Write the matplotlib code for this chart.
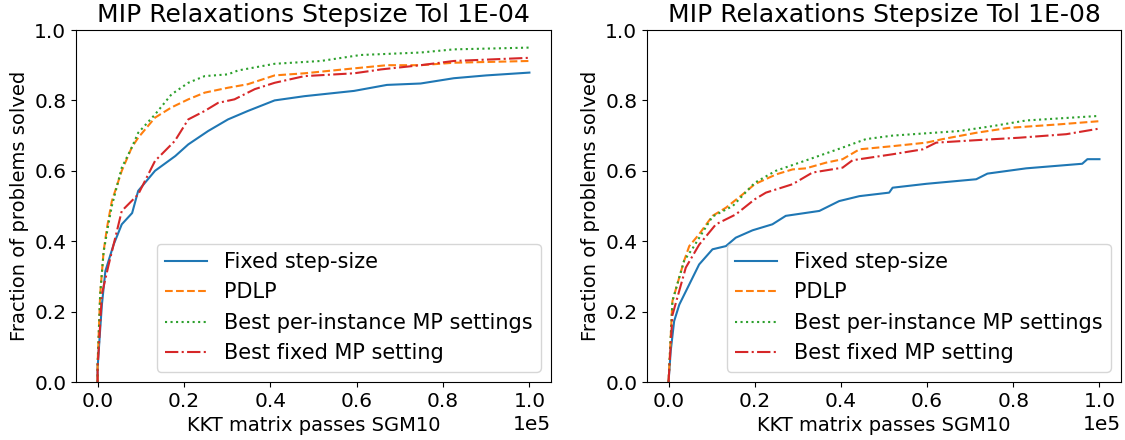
import matplotlib
matplotlib.use('Agg')
import matplotlib.pyplot as plt
import numpy as np

# ---- Tol 1E-04 (left panel); x in units of 1e5 KKT passes ----
l_fixed_x = [0, 0, 0.006, 0.01, 0.018, 0.037, 0.056, 0.08, 0.094, 0.133, 0.18, 0.21, 0.256,
             0.302, 0.348, 0.41, 0.479, 0.594, 0.67, 0.748, 0.825, 0.9, 1.0]
l_fixed_y = [0, 0.04, 0.15, 0.22, 0.315, 0.39, 0.448, 0.48, 0.543, 0.60, 0.642, 0.675, 0.713,
             0.746, 0.77, 0.80, 0.812, 0.827, 0.844, 0.848, 0.863, 0.871, 0.879]
l_pdlp_x = [0, 0, 0.006, 0.014, 0.022, 0.033, 0.056, 0.079, 0.094, 0.133, 0.171, 0.21, 0.248,
            0.302, 0.348, 0.41, 0.479, 0.594, 0.67, 0.748, 0.825, 1.0]
l_pdlp_y = [0, 0.05, 0.25, 0.372, 0.44, 0.514, 0.60, 0.666, 0.694, 0.751, 0.78, 0.803, 0.822,
            0.836, 0.846, 0.871, 0.877, 0.891, 0.90, 0.90, 0.907, 0.912]
l_best_x = [0, 0, 0.006, 0.014, 0.025, 0.033, 0.056, 0.079, 0.094, 0.133, 0.171, 0.21, 0.248,
            0.302, 0.325, 0.41, 0.517, 0.609, 0.748, 0.825, 1.0]
l_best_y = [0, 0.05, 0.25, 0.37, 0.448, 0.50, 0.609, 0.666, 0.708, 0.76, 0.817, 0.85, 0.869,
            0.874, 0.885, 0.904, 0.912, 0.929, 0.936, 0.945, 0.95]
l_mp_x = [0, 0, 0.01, 0.025, 0.037, 0.056, 0.094, 0.133, 0.179, 0.21, 0.248, 0.279, 0.317,
          0.364, 0.41, 0.479, 0.594, 0.64, 0.656, 0.748, 0.825, 1.0]
l_mp_y = [0, 0.04, 0.25, 0.33, 0.39, 0.486, 0.533, 0.628, 0.685, 0.746, 0.77, 0.793, 0.803,
          0.832, 0.85, 0.869, 0.877, 0.885, 0.888, 0.90, 0.912, 0.921]

# ---- Tol 1E-08 (right panel) ----
r_fixed_x = [0, 0.005, 0.013, 0.025, 0.048, 0.071, 0.102, 0.133, 0.156, 0.195, 0.241, 0.272,
             0.35, 0.396, 0.443, 0.512, 0.52, 0.598, 0.714, 0.74, 0.83, 0.96, 0.972, 1.0]
r_fixed_y = [0, 0.088, 0.173, 0.22, 0.277, 0.334, 0.377, 0.386, 0.41, 0.431, 0.448, 0.472,
             0.486, 0.514, 0.528, 0.538, 0.552, 0.563, 0.576, 0.592, 0.607, 0.62, 0.633, 0.633]
r_pdlp_x = [0, 0.009, 0.036, 0.048, 0.071, 0.102, 0.133, 0.172, 0.2, 0.25, 0.288, 0.319,
            0.365, 0.404, 0.443, 0.52, 0.598, 0.636, 0.714, 0.79, 0.907, 1.0]
r_pdlp_y = [0, 0.23, 0.344, 0.386, 0.42, 0.472, 0.495, 0.533, 0.562, 0.59, 0.604, 0.607,
            0.623, 0.633, 0.661, 0.67, 0.68, 0.69, 0.708, 0.722, 0.732, 0.741]
r_best_x = [0, 0.009, 0.036, 0.056, 0.102, 0.149, 0.2, 0.249, 0.327, 0.404, 0.458, 0.52,
            0.675, 0.752, 0.830, 1.0]
r_best_y = [0, 0.23, 0.344, 0.38, 0.47, 0.50, 0.566, 0.60, 0.633, 0.666, 0.69, 0.70,
            0.713, 0.727, 0.743, 0.756]
r_mp_x = [0, 0.009, 0.04, 0.071, 0.11, 0.156, 0.2, 0.226, 0.288, 0.334, 0.404, 0.427,
          0.52, 0.59, 0.621, 0.714, 0.814, 0.923, 1.0]
r_mp_y = [0, 0.19, 0.325, 0.39, 0.448, 0.476, 0.519, 0.538, 0.562, 0.595, 0.609, 0.63,
          0.647, 0.661, 0.68, 0.687, 0.694, 0.704, 0.72]

labels = ['Fixed step-size', 'PDLP', 'Best per-instance MP settings', 'Best fixed MP setting']
styles = [('#1f77b4', '-'), ('#ff7f0e', '--'), ('#2ca02c', ':'), ('#d62728', '-.')]

panels = [
    ('MIP Relaxations Stepsize Tol 1E-04',
     [(l_fixed_x, l_fixed_y), (l_pdlp_x, l_pdlp_y), (l_best_x, l_best_y), (l_mp_x, l_mp_y)]),
    ('MIP Relaxations Stepsize Tol 1E-08',
     [(r_fixed_x, r_fixed_y), (r_pdlp_x, r_pdlp_y), (r_best_x, r_best_y), (r_mp_x, r_mp_y)]),
]

fig = plt.figure(figsize=(11.25, 4.4), dpi=100)
rects = [[76 / 1125, 58 / 440, 475 / 1125, 352 / 440],
         [647 / 1125, 58 / 440, 474 / 1125, 352 / 440]]

for rect, (title, series) in zip(rects, panels):
    ax = fig.add_axes(rect)
    for (xs, ys), lab, (col, ls) in zip(series, labels, styles):
        ax.plot(np.array(xs) * 1e5, ys, color=col, linestyle=ls, label=lab, linewidth=1.5)
    ax.set_ylim(0, 1.0)
    ax.set_yticks([0.0, 0.2, 0.4, 0.6, 0.8, 1.0])
    ax.set_xticks(np.arange(0, 1.01, 0.2) * 1e5)
    ax.ticklabel_format(axis='x', style='sci', scilimits=(0, 0))
    ax.tick_params(labelsize=14.5)
    ax.xaxis.get_offset_text().set_fontsize(14.5)
    ax.set_title(title, fontsize=18)
    ax.set_xlabel('KKT matrix passes SGM10', fontsize=14)
    ax.set_ylabel('Fraction of problems solved', fontsize=14)
    ax.legend(loc='lower right', fontsize=15)

plt.savefig('out.png', dpi=100)
